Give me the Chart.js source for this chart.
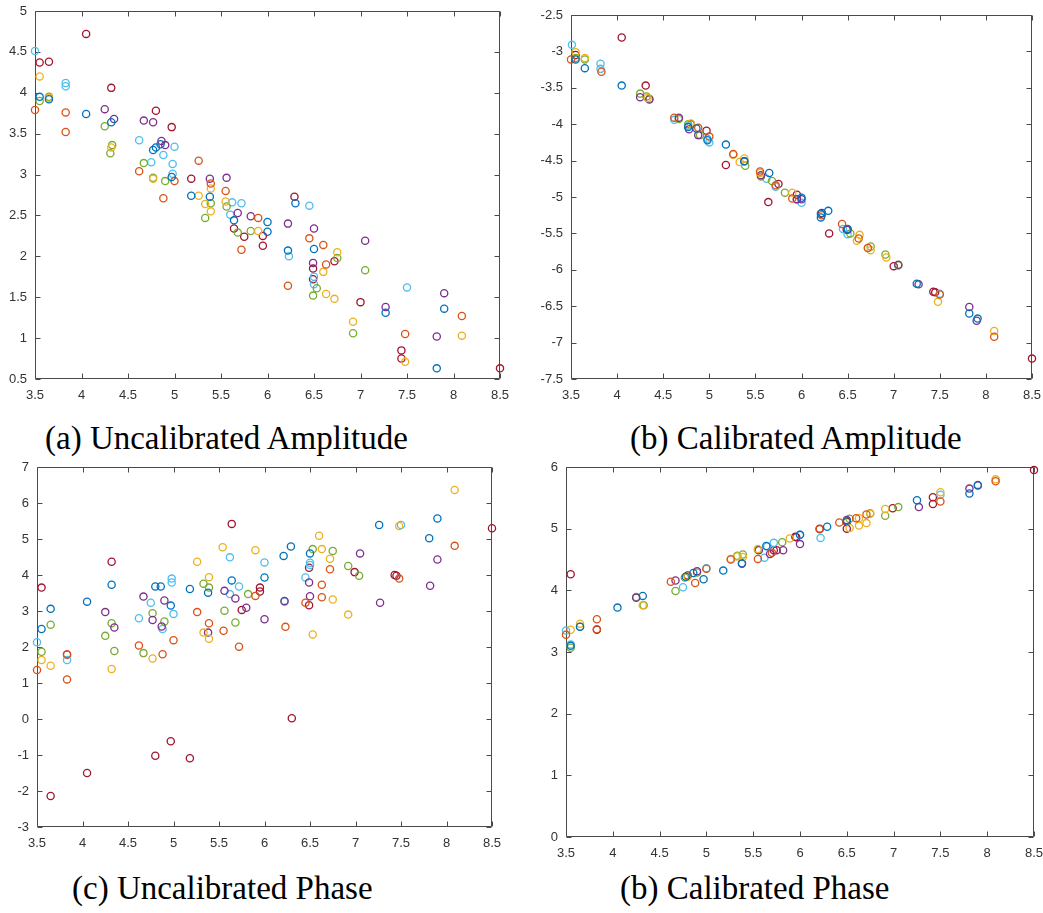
<!DOCTYPE html>
<html>
<head>
<meta charset="utf-8">
<script src="https://cdn.jsdelivr.net/npm/chart.js@4.4.1/dist/chart.umd.min.js"></script>
<style>
  html, body { margin:0; padding:0; background:#fff; width:1043px; height:913px; overflow:hidden; position:relative; }
  canvas { position:absolute; }
  .cap { position:absolute; font-family:"Liberation Serif","Times New Roman",serif; font-size:33px; line-height:33px; color:#000; white-space:nowrap; }
</style>
</head>
<body>
<script>
// ---------- tick labels ----------
const xTicks = [3.5, 4, 4.5, 5, 5.5, 6, 6.5, 7, 7.5, 8, 8.5];
const yTicksUncalAmp = [0.5, 1, 1.5, 2, 2.5, 3, 3.5, 4, 4.5, 5];
const yTicksCalAmp = [-7.5, -7, -6.5, -6, -5.5, -5, -4.5, -4, -3.5, -3, -2.5];
const yTicksUncalPhase = [-3, -2, -1, 0, 1, 2, 3, 4, 5, 6, 7];
const yTicksCalPhase = [0, 1, 2, 3, 4, 5, 6];

// ---------- captions ----------
const captions = ["(a) Uncalibrated Amplitude", "(b) Calibrated Amplitude", "(c) Uncalibrated Phase", "(b) Calibrated Phase"];

// ---------- (a) Uncalibrated Amplitude ----------
const uAmpBlue = [[3.55,3.95],[3.65,3.92],[4.05,3.74],[4.32,3.64],[4.77,3.3],[4.8,3.33],[4.85,3.37],[4.97,2.97],[5.18,2.74],[5.38,2.73],[5.64,2.44],[6.0,2.42],[6.0,2.3],[6.22,2.07],[6.3,2.65],[6.5,2.09],[7.27,1.31],[7.82,0.63],[7.9,1.36]];
const uAmpOrange = [[3.5,3.79],[3.83,3.76],[3.83,3.52],[4.62,3.04],[4.88,2.71],[5.0,2.92],[5.26,3.17],[5.39,2.89],[5.55,2.8],[5.72,2.08],[5.9,2.47],[6.22,1.64],[6.45,2.22],[6.6,2.14],[6.63,1.9],[7.48,1.05],[8.09,1.27]];
const uAmpYellow = [[3.55,4.2],[3.65,3.94],[4.32,3.33],[4.77,2.95],[5.26,2.74],[5.33,2.64],[5.39,2.83],[5.39,2.55],[5.55,2.67],[5.9,2.31],[6.6,1.81],[6.63,1.54],[6.72,1.48],[6.75,2.05],[6.92,1.2],[7.48,0.71],[8.09,1.03]];
const uAmpPurple = [[4.25,3.8],[4.35,3.68],[4.67,3.66],[4.77,3.64],[4.86,3.41],[4.9,3.36],[5.38,2.95],[5.56,2.96],[5.68,2.53],[5.82,2.49],[6.22,2.4],[6.5,2.34],[6.49,1.92],[7.05,2.19],[7.27,1.38],[7.82,1.02],[7.9,1.55]];
const uAmpGreen = [[3.55,3.9],[3.65,3.95],[4.25,3.59],[4.33,3.36],[4.31,3.26],[4.67,3.14],[4.77,2.96],[4.9,2.92],[5.33,2.47],[5.39,2.65],[5.56,2.61],[5.68,2.29],[5.82,2.31],[6.49,1.52],[6.53,1.61],[6.75,1.98],[6.92,1.06],[7.05,1.83]];
const uAmpLightBlue = [[3.5,4.51],[3.83,4.12],[3.83,4.08],[4.62,3.42],[4.75,3.15],[4.88,3.24],[5.0,3.34],[4.98,3.13],[4.98,3.01],[5.62,2.66],[5.72,2.65],[5.6,2.51],[6.23,2.0],[6.45,2.62],[6.5,1.75],[6.5,1.66],[7.5,1.62]];
const uAmpDarkRed = [[3.55,4.37],[3.65,4.38],[4.05,4.72],[4.32,4.06],[4.8,3.78],[4.97,3.58],[5.18,2.95],[5.64,2.34],[5.75,2.24],[5.95,2.25],[5.95,2.13],[6.29,2.73],[6.49,1.85],[6.49,1.72],[6.72,1.94],[7.0,1.44],[7.44,0.85],[7.44,0.75],[8.5,0.63]];

// ---------- (b) Calibrated Amplitude ----------
const cAmpBlue = [[3.55,-3.11],[3.65,-3.23],[4.05,-3.47],[4.77,-4.04],[4.86,-4.06],[4.98,-4.22],[5.18,-4.28],[5.38,-4.51],[5.65,-4.67],[6.0,-5.01],[6.21,-5.28],[6.21,-5.23],[6.29,-5.19],[6.5,-5.44],[7.25,-6.19],[7.82,-6.6],[7.91,-6.67]];
const cAmpOrange = [[3.5,-3.11],[3.83,-3.28],[4.62,-3.91],[4.88,-4.05],[5.0,-4.17],[5.26,-4.41],[5.55,-4.65],[5.72,-4.84],[5.9,-5.02],[6.22,-5.25],[6.44,-5.37],[6.62,-5.57],[6.72,-5.7],[7.5,-6.34],[8.09,-6.92]];
const cAmpYellow = [[3.55,-3.01],[3.65,-3.09],[4.33,-3.64],[4.8,-3.99],[5.26,-4.42],[5.33,-4.52],[5.38,-4.47],[5.55,-4.67],[5.9,-4.94],[6.6,-5.6],[6.63,-5.52],[6.72,-5.7],[6.75,-5.73],[6.92,-5.83],[7.48,-6.44],[8.09,-6.84]];
const cAmpPurple = [[4.25,-3.63],[4.35,-3.66],[4.67,-3.91],[4.78,-4.07],[4.88,-4.15],[5.38,-4.51],[5.56,-4.7],[5.95,-5.03],[6.0,-5.03],[6.5,-5.45],[7.05,-5.93],[7.27,-6.2],[7.82,-6.51],[7.9,-6.7]];
const cAmpGreen = [[3.55,-3.09],[3.65,-3.11],[4.25,-3.58],[4.32,-3.62],[4.35,-3.65],[4.67,-3.93],[4.77,-4.0],[4.9,-4.15],[5.39,-4.57],[5.56,-4.72],[5.68,-4.78],[5.82,-4.94],[6.53,-5.5],[6.75,-5.68],[6.91,-5.79],[7.05,-5.94]];
const cAmpLightBlue = [[3.51,-2.91],[3.82,-3.17],[3.82,-3.24],[4.62,-3.94],[4.77,-4.02],[4.98,-4.2],[5.0,-4.25],[5.62,-4.75],[5.72,-4.86],[6.0,-5.08],[6.45,-5.44],[6.5,-5.51],[7.5,-6.33]];
const cAmpDarkRed = [[3.55,-3.05],[4.05,-2.81],[4.31,-3.47],[4.8,-4.0],[4.97,-4.09],[5.18,-4.56],[5.64,-5.07],[5.75,-4.82],[5.95,-4.97],[5.95,-5.03],[6.22,-5.22],[6.3,-5.5],[6.49,-5.45],[7.0,-5.95],[7.43,-6.3],[7.45,-6.31],[8.5,-7.22]];

// ---------- (c) Uncalibrated Phase ----------
const uPhBlue = [[3.55,2.5],[3.65,3.06],[4.05,3.26],[4.32,3.73],[4.8,3.68],[4.86,3.68],[4.97,3.15],[5.18,3.61],[5.38,3.51],[5.64,3.85],[6.0,3.93],[6.21,4.53],[6.29,4.79],[6.5,4.6],[7.26,5.39],[7.81,5.02],[7.9,5.57]];
const uPhOrange = [[3.5,1.36],[3.83,1.79],[3.83,1.1],[4.62,2.04],[4.88,1.8],[5.0,2.19],[5.26,2.97],[5.39,2.66],[5.55,2.45],[5.72,2.01],[5.9,3.42],[6.23,2.56],[6.45,3.23],[6.63,3.73],[6.63,3.38],[6.72,4.16],[7.48,3.9],[8.09,4.81]];
const uPhYellow = [[3.55,1.64],[3.65,1.48],[4.32,1.39],[4.77,1.68],[5.26,4.37],[5.33,2.4],[5.39,3.94],[5.39,2.23],[5.54,4.77],[5.9,4.69],[6.53,2.35],[6.6,5.09],[6.63,4.72],[6.72,4.45],[6.75,3.32],[6.92,2.9],[7.48,5.36],[8.09,6.36]];
const uPhPurple = [[4.25,2.97],[4.35,2.54],[4.67,3.4],[4.77,2.75],[4.87,2.57],[4.9,3.29],[5.38,2.4],[5.56,3.56],[5.68,3.35],[5.8,3.09],[6.0,2.77],[6.22,3.28],[6.49,3.79],[6.5,3.41],[7.05,4.6],[7.27,3.23],[7.82,3.7],[7.9,4.43]];
const uPhGreen = [[3.55,1.87],[3.65,2.62],[4.25,2.31],[4.32,2.66],[4.35,1.89],[4.67,1.83],[4.77,2.94],[4.9,2.71],[5.33,3.76],[5.39,3.65],[5.56,3.01],[5.68,2.68],[5.82,3.47],[6.53,4.72],[6.75,4.67],[6.92,4.25],[7.04,3.98]];
const uPhLightBlue = [[3.5,2.13],[3.83,1.64],[4.62,2.8],[4.75,3.23],[4.88,2.5],[4.98,3.9],[4.98,3.79],[5.0,2.92],[5.62,4.49],[5.62,3.47],[5.72,3.68],[6.0,4.35],[6.22,3.26],[6.45,3.93],[6.5,4.34],[6.5,4.28],[7.5,5.39]];
const uPhDarkRed = [[3.55,3.65],[3.65,-2.14],[3.83,1.79],[4.05,-1.5],[4.32,4.37],[4.8,-1.02],[4.97,-0.62],[5.18,-1.09],[5.64,5.42],[5.75,3.03],[5.95,3.65],[5.95,3.54],[6.3,0.02],[6.49,4.2],[6.49,3.16],[6.99,4.08],[7.43,4.0],[7.45,3.98],[8.5,5.3]];

// ---------- (d) Calibrated Phase ----------
const cPhBlue = [[3.55,3.1],[3.65,3.41],[4.05,3.72],[4.32,3.91],[4.78,4.22],[4.86,4.28],[4.97,4.18],[5.18,4.32],[5.38,4.43],[5.64,4.72],[6.0,4.9],[6.29,5.03],[6.5,5.13],[7.25,5.46],[7.81,5.57],[7.9,5.71]];
const cPhOrange = [[3.5,3.28],[3.83,3.53],[3.83,3.37],[4.62,4.14],[4.88,4.12],[5.0,4.35],[5.26,4.5],[5.55,4.51],[5.7,4.61],[6.21,4.99],[6.42,5.1],[6.6,5.17],[6.71,5.23],[7.5,5.44],[8.09,5.77]];
const cPhYellow = [[3.55,3.36],[3.65,3.46],[4.32,3.76],[4.8,4.22],[5.26,4.51],[5.33,4.55],[5.39,4.54],[5.55,4.67],[5.89,4.84],[6.53,5.01],[6.63,5.17],[6.63,5.05],[6.71,5.09],[6.75,5.24],[6.91,5.32],[7.5,5.59],[8.09,5.8]];
const cPhPurple = [[4.25,3.88],[4.67,4.16],[4.9,4.31],[5.38,4.44],[5.56,4.65],[5.68,4.59],[5.82,4.65],[6.0,4.75],[6.5,5.14],[7.27,5.35],[7.81,5.65],[7.9,5.7]];
const cPhGreen = [[3.55,3.07],[3.65,3.41],[4.25,3.89],[4.33,3.76],[4.67,3.99],[4.77,4.21],[4.9,4.29],[5.33,4.56],[5.39,4.58],[5.55,4.66],[5.81,4.78],[6.53,5.16],[6.75,5.25],[6.91,5.21],[7.05,5.35]];
const cPhLightBlue = [[3.5,3.35],[3.55,3.12],[4.75,4.05],[5.0,4.36],[5.62,4.53],[5.65,4.71],[5.72,4.77],[6.0,4.9],[6.22,4.85],[7.5,5.55]];
const cPhDarkRed = [[3.55,4.26],[3.83,3.36],[4.8,4.24],[5.72,4.65],[5.75,4.65],[5.95,4.87],[5.96,4.86],[6.21,5.0],[6.5,5.11],[6.5,5.0],[6.99,5.33],[7.42,5.51],[7.42,5.4],[8.5,5.95]];

// ---------- styles (MATLAB default colour order) ----------
const seriesColors = ['#0072BD', '#D95319', '#EDB120', '#7E2F8E', '#77AC30', '#4DBEEE', '#A2142F'];

const panels = [
  { series: [uAmpBlue, uAmpOrange, uAmpYellow, uAmpPurple, uAmpGreen, uAmpLightBlue, uAmpDarkRed],
    yTicks: yTicksUncalAmp, box: {L:35, T:11, R:500, B:379}, cap: {x:45, base:450} },
  { series: [cAmpBlue, cAmpOrange, cAmpYellow, cAmpPurple, cAmpGreen, cAmpLightBlue, cAmpDarkRed],
    yTicks: yTicksCalAmp, box: {L:571, T:15, R:1032, B:379}, cap: {x:630, base:450} },
  { series: [uPhBlue, uPhOrange, uPhYellow, uPhPurple, uPhGreen, uPhLightBlue, uPhDarkRed],
    yTicks: yTicksUncalPhase, box: {L:37, T:467, R:492, B:827}, cap: {x:72, base:900} },
  { series: [cPhBlue, cPhOrange, cPhYellow, cPhPurple, cPhGreen, cPhLightBlue, cPhDarkRed],
    yTicks: yTicksCalPhase, box: {L:566, T:467, R:1034, B:837}, cap: {x:620, base:900} }
];

const Y_AXIS_W = 40, PAD_T = 10, PAD_R = 12, X_AXIS_H = 30;
const AXIS_COLOR = '#4a4a4a';

const matlabBox = {
  id: 'matlabBox',
  beforeDatasetsDraw(chart) {
    const { ctx, chartArea: a, scales: { x, y } } = chart;
    const l = Math.round(a.left) + 0.5, r = Math.round(a.right) - 0.5;
    const t = Math.round(a.top) + 0.5, b = Math.round(a.bottom) - 0.5;
    ctx.save();
    ctx.strokeStyle = AXIS_COLOR;
    ctx.lineWidth = 1;
    ctx.beginPath();
    ctx.rect(l, t, r - l, b - t);
    const len = 5;
    x.ticks.forEach(tk => {
      const px = Math.round(x.getPixelForValue(tk.value)) + 0.5;
      ctx.moveTo(px, b); ctx.lineTo(px, b - len);
      ctx.moveTo(px, t); ctx.lineTo(px, t + len);
    });
    y.ticks.forEach(tk => {
      const py = Math.round(y.getPixelForValue(tk.value)) + 0.5;
      ctx.moveTo(l, py); ctx.lineTo(l + len, py);
      ctx.moveTo(r, py); ctx.lineTo(r - len, py);
    });
    ctx.stroke();
    ctx.restore();
  }
};

const tickFont = { family: '"Liberation Sans", Arial, Helvetica, sans-serif', size: 13 };

panels.forEach((p, i) => {
  const bx = p.box;
  const cw = (bx.R - bx.L) + Y_AXIS_W + PAD_R;
  const ch = (bx.B - bx.T) + PAD_T + X_AXIS_H;
  const cv = document.createElement('canvas');
  cv.width = cw; cv.height = ch;
  cv.style.width = cw + 'px'; cv.style.height = ch + 'px';
  cv.style.left = (bx.L - Y_AXIS_W) + 'px';
  cv.style.top = (bx.T - PAD_T) + 'px';
  document.body.appendChild(cv);

  const cap = document.createElement('div');
  cap.className = 'cap';
  cap.textContent = captions[i];
  cap.style.left = p.cap.x + 'px';
  cap.style.top = (p.cap.base - 28) + 'px';
  document.body.appendChild(cap);

  const yMin = p.yTicks[0], yMax = p.yTicks[p.yTicks.length - 1];

  new Chart(cv, {
    type: 'scatter',
    data: {
      datasets: p.series.map((s, k) => ({
        data: s.map(([xv, yv]) => ({ x: xv, y: yv })),
        borderColor: seriesColors[k],
        backgroundColor: 'rgba(0,0,0,0)',
        pointBackgroundColor: 'rgba(0,0,0,0)',
        pointBorderColor: seriesColors[k],
        pointRadius: 3.6,
        pointBorderWidth: 1.3,
        pointHoverRadius: 3.6,
        clip: false
      }))
    },
    options: {
      responsive: false,
      devicePixelRatio: 1,
      animation: false,
      events: [],
      layout: { padding: { top: PAD_T, right: PAD_R, left: 0, bottom: 0 } },
      plugins: { legend: { display: false }, tooltip: { enabled: false }, title: { display: false } },
      scales: {
        x: {
          type: 'linear', min: xTicks[0], max: xTicks[xTicks.length - 1],
          grid: { display: false, drawTicks: false },
          border: { display: false },
          afterBuildTicks: sc => { sc.ticks = xTicks.map(v => ({ value: v })); },
          afterFit: sc => { sc.height = X_AXIS_H; sc.paddingLeft = 0; sc.paddingRight = 0; },
          ticks: { padding: 9, color: '#333', font: tickFont, autoSkip: false, maxRotation: 0, callback: v => String(v) }
        },
        y: {
          type: 'linear', min: yMin, max: yMax,
          grid: { display: false, drawTicks: false },
          border: { display: false },
          afterBuildTicks: sc => { sc.ticks = p.yTicks.map(v => ({ value: v })); },
          afterFit: sc => { sc.width = Y_AXIS_W; sc.paddingTop = 0; sc.paddingBottom = 0; },
          ticks: { padding: 8, color: '#333', font: tickFont, autoSkip: false, callback: v => String(v) }
        }
      }
    },
    plugins: [matlabBox]
  });
});
</script>
</body>
</html>
